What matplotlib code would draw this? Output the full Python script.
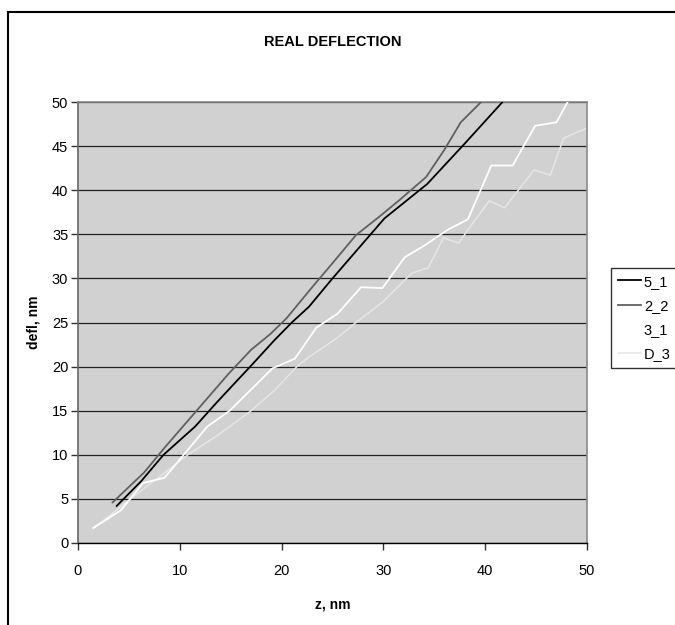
import numpy as np
import matplotlib
matplotlib.use("Agg")
import matplotlib.pyplot as plt
from matplotlib.patches import Rectangle

plt.rcParams['font.family'] = ['Liberation Sans', 'DejaVu Sans']

# deflection curves, z (nm) vs defl (nm)
z_5_1 = [3.8, 6.2, 8.4, 11.5, 13.6, 15.7, 17.0, 19.3, 21.0, 22.7, 25.0, 27.1, 30.1, 34.3, 38.0, 41.7]
d_5_1 = [4.2, 7.0, 10.0, 13.2, 15.9, 18.5, 20.1, 23.0, 25.0, 26.8, 30.0, 32.8, 36.8, 40.7, 45.3, 50.0]

z_2_2 = [3.4, 6.5, 8.5, 10.6, 12.7, 14.8, 17.0, 18.9, 20.5, 23.0, 25.2, 27.3, 29.6, 31.6, 34.2, 36.0, 37.6, 39.6]
d_2_2 = [4.6, 8.0, 10.8, 13.6, 16.4, 19.2, 21.9, 23.7, 25.5, 29.0, 32.0, 34.9, 37.0, 38.9, 41.5, 44.6, 47.7, 50.0]

z_3_1 = [1.5, 4.2, 6.4, 8.5, 10.6, 12.7, 14.9, 17.0, 19.1, 21.3, 23.4, 25.5, 27.8, 29.9,
         32.1, 34.0, 36.3, 38.3, 40.6, 42.7, 44.9, 47.0, 48.1]
d_3_1 = [1.7, 3.7, 6.8, 7.4, 10.3, 13.2, 15.0, 17.4, 19.8, 20.9, 24.4, 26.0, 29.0, 28.9,
         32.4, 33.7, 35.5, 36.7, 42.8, 42.8, 47.3, 47.7, 50.0]

z_d_3 = [1.5, 3.0, 5.6, 8.0, 10.8, 13.7, 16.9, 19.3, 21.5, 22.7, 25.4, 27.2, 29.9, 32.8,
         34.4, 35.9, 37.4, 38.3, 40.4, 41.9, 44.8, 46.4, 47.7, 49.9]
d_d_3 = [1.7, 3.0, 5.4, 7.5, 10.0, 12.2, 14.9, 17.3, 20.0, 21.1, 23.2, 24.9, 27.3, 30.6,
         31.2, 34.6, 34.0, 35.5, 38.8, 38.0, 42.3, 41.7, 45.9, 47.0]

fig = plt.figure(figsize=(6.75, 6.25), dpi=100)
ax = fig.add_axes([78/675, 1 - 543/625, 509/675, 441/625])
ax.set_facecolor('#d1d1d1')

ax.plot(z_5_1, d_5_1, color='#000000', lw=1.3, label='5_1', zorder=5)
ax.plot(z_2_2, d_2_2, color='#606060', lw=1.3, label='2_2', zorder=4)
ax.plot(z_3_1, d_3_1, color='#ffffff', lw=1.3, label='3_1', zorder=3)
ax.plot(z_d_3, d_d_3, color='#e6e6e6', lw=1.1, label='D_3', zorder=2)

ax.set_xlim(0, 50)
ax.set_ylim(0, 50)
ax.set_xticks(np.arange(0, 51, 10))
ax.set_yticks(np.arange(0, 51, 5))
ax.yaxis.grid(True, color='#222222', lw=0.9)
ax.set_axisbelow(True)
ax.tick_params(direction='out', length=5, width=1, labelsize=10.5, color='#333333')
ax.tick_params(axis='y', pad=2)
ax.tick_params(axis='x', pad=10)

for side in ['top', 'right']:
    ax.spines[side].set_color('#8a8a8a')
    ax.spines[side].set_linewidth(1.2)
ax.spines['left'].set_color('#666666')
ax.spines['left'].set_linewidth(1.2)
ax.spines['bottom'].set_color('#000000')
ax.spines['bottom'].set_linewidth(1)

fig.text(333/675, 1 - 42/625, 'REAL DEFLECTION', ha='center', va='center',
         fontsize=10.5, fontweight='bold')
ax.set_xlabel('z, nm', fontsize=10, fontweight='bold', labelpad=14)
ax.set_ylabel('defl, nm', fontsize=10, fontweight='bold', labelpad=8)

leg = ax.legend(loc='upper left', bbox_to_anchor=(611/675, 1 - 268/625),
                bbox_transform=fig.transFigure, frameon=True, fancybox=False,
                fontsize=10.5, handlelength=1.6, handletextpad=0.2,
                borderpad=0.45, labelspacing=0.7, borderaxespad=0)
leg.get_frame().set_edgecolor('#000000')
leg.get_frame().set_linewidth(1)

# outer chart border, runs off the right and bottom
fig.patches.append(Rectangle((8/675, -0.2), 1.0, 1.2 - 12/625, fill=False,
                             edgecolor='#000000', lw=1.5,
                             transform=fig.transFigure, figure=fig))

fig.savefig('out.png', dpi=100)
